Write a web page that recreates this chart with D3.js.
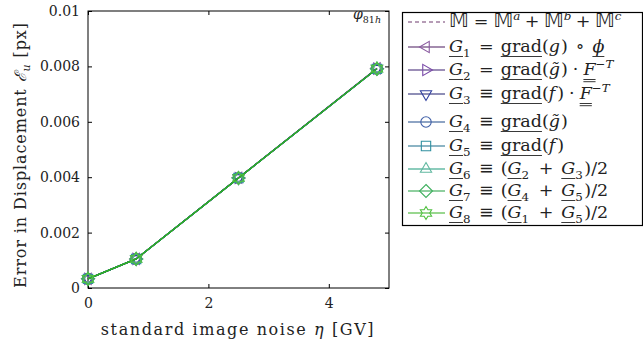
<!DOCTYPE html>
<html><head><meta charset="utf-8">
<script src="https://cdn.jsdelivr.net/npm/d3@7"></script>
<style>
html,body{margin:0;padding:0;background:#fff;}
svg{display:block;}
text{font-family:"DejaVu Serif",serif;fill:#222;white-space:pre;}
</style></head>
<body>
<script>
// ---- data ----
const noise = [0, 0.8, 2.5, 4.8];
const seriesNames = ["M", "G1", "G2", "G3", "G4", "G5", "G6", "G7", "G8"];
const errM  = [0.00033, 0.00105, 0.00397, 0.00792];
const errG1 = [0.00033, 0.00105, 0.00398, 0.00793];
const errG2 = [0.00033, 0.00105, 0.00397, 0.00792];
const errG3 = [0.00033, 0.00105, 0.00397, 0.00792];
const errG4 = [0.00033, 0.00105, 0.00397, 0.00791];
const errG5 = [0.00033, 0.00105, 0.00397, 0.00791];
const errG6 = [0.00033, 0.00105, 0.00397, 0.00792];
const errG7 = [0.00033, 0.00105, 0.00397, 0.00791];
const errG8 = [0.00033, 0.00105, 0.00397, 0.00792];
const xTicks = [0, 2, 4];
const yTicks = [0, 0.002, 0.004, 0.006, 0.008, 0.01];
const yTickLabels = ["0", "0.002", "0.004", "0.006", "0.008", "0.01"];

const seriesData = [errM, errG1, errG2, errG3, errG4, errG5, errG6, errG7, errG8];
const lineColors   = ["#6e3a6e", "#4a1a5e", "#3a1e70", "#1e1e6e", "#1e4a8a", "#1a6a8a", "#1a9a7a", "#20a040", "#34b020"];
const markerColors = ["#6e3a6e", "#8a5aa0", "#7a4aa8", "#3040a0", "#4060a8", "#3090a0", "#60b8a0", "#40b060", "#50c040"];
const markerTypes  = [null, "tl", "tr", "td", "circle", "square", "tu", "diamond", "star6"];

const FONT = '"DejaVu Serif",serif';
const W = 643, H = 345;
const M = {l: 88, r: 389, t: 11, b: 288};
const svg = d3.select("body").append("svg").attr("width", W).attr("height", H);

const x = d3.scaleLinear().domain([0, 5]).range([M.l, M.r]);
const y = d3.scaleLinear().domain([0, 0.01]).range([M.b, M.t]);

// frame
svg.append("rect").attr("x", M.l).attr("y", M.t).attr("width", M.r - M.l).attr("height", M.b - M.t)
  .attr("fill", "none").attr("stroke", "#000").attr("stroke-width", 1);

// axes with inward ticks
const ax = svg.append("g").attr("transform", `translate(0,${M.b})`)
  .call(d3.axisBottom(x).tickValues(xTicks).tickSize(-4).tickPadding(10).tickFormat(d3.format("d")));
const axT = svg.append("g").attr("transform", `translate(0,${M.t})`)
  .call(d3.axisTop(x).tickValues(xTicks).tickSize(-4).tickFormat(""));
const ay = svg.append("g").attr("transform", `translate(${M.l},0)`)
  .call(d3.axisLeft(y).tickValues(yTicks).tickSize(-4).tickPadding(8).tickFormat((d, i) => yTickLabels[i]));
const ayR = svg.append("g").attr("transform", `translate(${M.r},0)`)
  .call(d3.axisRight(y).tickValues(yTicks).tickSize(-4).tickFormat(""));
[ax, axT, ay, ayR].forEach(g => {
  g.select(".domain").remove();
  g.selectAll("line").attr("stroke", "#000");
  g.selectAll("text").attr("font-size", 14).attr("fill", "#222").style("font-family", FONT);
});

// marker symbol path generator
function markerPath(type, r) {
  const p = d3.path();
  const poly = pts => { pts.forEach((q, i) => i ? p.lineTo(q[0], q[1]) : p.moveTo(q[0], q[1])); p.closePath(); };
  const tri = ang => { const pts = []; for (let k = 0; k < 3; k++) { const a = ang + k * 2 * Math.PI / 3; pts.push([r * Math.cos(a), r * Math.sin(a)]); } poly(pts); };
  switch (type) {
    case "tl": tri(Math.PI); break;
    case "tr": tri(0); break;
    case "td": tri(Math.PI / 2); break;
    case "tu": tri(-Math.PI / 2); break;
    case "circle": p.arc(0, 0, r * 0.8, 0, 2 * Math.PI); break;
    case "square": { const s = r * 0.72; poly([[-s, -s], [s, -s], [s, s], [-s, s]]); break; }
    case "diamond": poly([[0, -r], [r, 0], [0, r], [-r, 0]]); break;
    case "star6": { const pts = []; for (let k = 0; k < 12; k++) { const a = -Math.PI / 2 + k * Math.PI / 6; const rr = k % 2 ? r * 0.58 : r; pts.push([rr * Math.cos(a), rr * Math.sin(a)]); } poly(pts); break; }
  }
  return p.toString();
}

// series lines + markers
const line = d3.line().x((d, i) => x(noise[i])).y(d => y(d));
seriesData.forEach((vals, s) => {
  const g = svg.append("g");
  g.append("path").attr("d", line(vals)).attr("fill", "none")
    .attr("stroke", lineColors[s]).attr("stroke-width", 1.2)
    .attr("stroke-dasharray", s === 0 ? "5,3" : null);
  if (markerTypes[s]) {
    g.selectAll("path.m").data(vals).join("path").attr("class", "m")
      .attr("transform", (d, i) => `translate(${x(noise[i])},${y(d)})`)
      .attr("d", markerPath(markerTypes[s], 6.5))
      .attr("fill", "none").attr("stroke", markerColors[s]).attr("stroke-width", 1.1);
  }
});

// rich text helper: segments {t, i: italic, s: sub|sup, u: underline count, f: font, p: pad both sides, a: pad after, k: size factor}
function rich(parent, x0, y0, segs, fs) {
  let cx = x0;
  segs.forEach(sg => {
    if (sg.p) cx += sg.p;
    const size = (sg.s ? fs * 0.68 : fs) * (sg.k || 1);
    const dy = sg.s === "sub" ? fs * 0.3 : sg.s === "sup" ? -fs * 0.42 : 0;
    const t = parent.append("text").attr("x", cx).attr("y", y0 + dy)
      .attr("font-size", size).attr("font-style", sg.i ? "italic" : "normal")
      .text(sg.t);
    if (sg.f) t.style("font-family", sg.f);
    const w = t.node().getComputedTextLength();
    if (sg.u) {
      for (let k = 0; k < sg.u; k++) {
        const uy = y0 + 4.5 + k * 2.2;
        parent.append("line").attr("x1", cx).attr("x2", cx + w).attr("y1", uy).attr("y2", uy)
          .attr("stroke", "#222").attr("stroke-width", 0.9);
      }
    }
    cx += w + (sg.p || 0) + (sg.a || 0);
  });
  return cx;
}

// annotation phi_81h
rich(svg, 353, 19, [{t: "φ", i: 1}, {t: "81", s: "sub"}, {t: "h", s: "sub", i: 1}], 14);

// axis labels
svg.append("text").attr("x", 238).attr("y", 335).attr("text-anchor", "middle")
  .attr("font-size", 16).attr("letter-spacing", 1.6)
  .html('standard image noise <tspan font-style="italic">η</tspan> [GV]');
const yl = svg.append("g").attr("transform", "translate(26,155) rotate(-90)");
yl.append("text").attr("x", 0).attr("y", 0).attr("text-anchor", "middle")
  .attr("font-size", 16).attr("letter-spacing", 0.9)
  .html('Error in Displacement <tspan font-style="italic">ℰ</tspan><tspan font-size="11" dy="4" font-style="italic">u</tspan><tspan dy="-4"> [px]</tspan>');

// legend
const BB = "DejaVu Sans";
const REL = 7, BIN = 8;
const G = (n) => [{t: "G", i: 1, u: 1}, {t: n, s: "sub", a: 1.5}];
const MM = {t: "𝕄", f: BB, k: 1.1};
const legendLabels = [
  [MM, {t: "=", p: 5}, MM, {t: "a", s: "sup", i: 1}, {t: "+", p: 4.5}, MM, {t: "b", s: "sup", i: 1}, {t: "+", p: 4.5}, MM, {t: "c", s: "sup", i: 1}],
  [...G("1"), {t: "=", p: REL}, {t: "grad", u: 1}, {t: "("}, {t: "g", i: 1, a: 1}, {t: ")"}, {t: "∘", p: BIN}, {t: "ϕ", i: 1, u: 1}],
  [...G("2"), {t: "=", p: REL}, {t: "grad", u: 1}, {t: "("}, {t: "g̃", i: 1, a: 1}, {t: ")"}, {t: "·", p: 5}, {t: "F", i: 1, u: 2}, {t: "−T", s: "sup", i: 1}],
  [...G("3"), {t: "≡", p: REL}, {t: "grad", u: 1}, {t: "("}, {t: "f", i: 1, a: 2}, {t: ")"}, {t: "·", p: 5}, {t: "F", i: 1, u: 2}, {t: "−T", s: "sup", i: 1}],
  [...G("4"), {t: "≡", p: REL}, {t: "grad", u: 1}, {t: "("}, {t: "g̃", i: 1, a: 1}, {t: ")"}],
  [...G("5"), {t: "≡", p: REL}, {t: "grad", u: 1}, {t: "("}, {t: "f", i: 1, a: 2}, {t: ")"}],
  [...G("6"), {t: "≡", p: REL}, {t: "("}, ...G("2"), {t: "+", p: BIN}, ...G("3"), {t: ")/2"}],
  [...G("7"), {t: "≡", p: REL}, {t: "("}, ...G("4"), {t: "+", p: BIN}, ...G("5"), {t: ")/2"}],
  [...G("8"), {t: "≡", p: REL}, {t: "("}, ...G("1"), {t: "+", p: BIN}, ...G("5"), {t: ")/2"}]
];
const rowY = [22, 47, 70, 94, 122, 146, 169, 191, 213];
const lg = svg.append("g");
lg.append("rect").attr("x", 402.5).attr("y", 12.5).attr("width", 240).attr("height", 213)
  .attr("fill", "#fff").attr("stroke", "#000").attr("stroke-width", 1.2);
seriesNames.forEach((nm, s) => {
  const yy = rowY[s];
  lg.append("line").attr("x1", 408).attr("x2", 445).attr("y1", yy).attr("y2", yy)
    .attr("stroke", lineColors[s]).attr("stroke-width", 1.2)
    .attr("stroke-dasharray", s === 0 ? "4,3" : null);
  if (markerTypes[s]) {
    lg.append("path").attr("transform", `translate(426,${yy})`).attr("d", markerPath(markerTypes[s], 6.5))
      .attr("fill", "none").attr("stroke", markerColors[s]).attr("stroke-width", 1.1);
  }
  rich(lg, 449, yy + 5, legendLabels[s], 17.5);
});
</script>
</body></html>
